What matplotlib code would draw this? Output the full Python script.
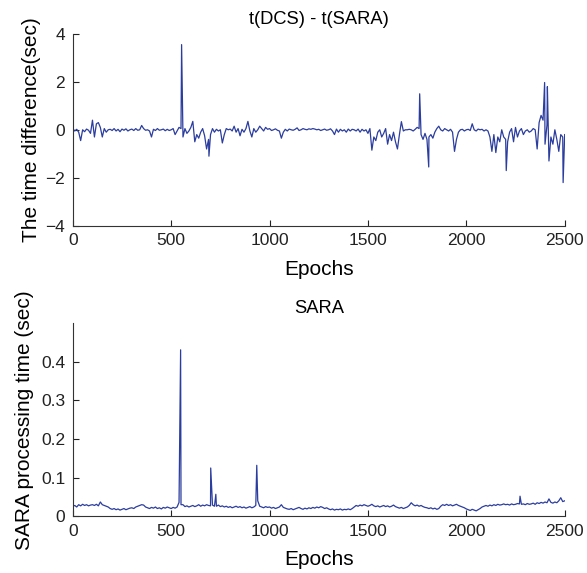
import numpy as np
import matplotlib
matplotlib.use('Agg')
import matplotlib.pyplot as plt

plt.rcParams['font.family'] = ['Liberation Sans', 'DejaVu Sans']

# -------------------
#    Data
# -------------------
# base trace, one value every 10 epochs
epochs = np.arange(0, 2501, 10)

# t(DCS) - t(SARA) in sec
dcs_diff = [
    0.05, -0.05, 0.02, -0.1, -0.45, 0.0, -0.08, 0.03, -0.02, -0.15,
    0.4, -0.3, 0.25, 0.3, 0.1, -0.3, 0.05, -0.1, 0.0, 0.02,
    -0.03, 0.05, -0.05, 0.02, -0.08, 0.03, -0.02, 0.04, -0.05, 0.0,
    0.03, -0.03, 0.05, -0.02, 0.0, 0.18, 0.05, -0.02, 0.0, -0.05,
    -0.3, 0.02, -0.03, 0.05, -0.02, 0.0, 0.03, -0.04, 0.02, -0.03,
    0.0, 0.05, -0.2, -0.05, 0.1, 0.05, -0.3, 0.05, -0.15, -0.05,
    0.1, 0.35, -0.5, -0.2, -0.35, -0.1, 0.05, -0.25, -0.8, -0.4,
    -0.2, 0.05, -0.1, 0.02, -0.05, 0.0, -0.55, -0.2, 0.05, 0.0,
    0.03, -0.05, 0.15, -0.1, 0.05, -0.25, 0.02, -0.1, 0.05, 0.35,
    -0.05, -0.3, 0.05, -0.1, 0.0, 0.15, 0.05, -0.05, 0.1, 0.02,
    0.05, -0.03, 0.0, 0.04, -0.02, -0.05, -0.35, -0.1, 0.02, -0.05,
    0.03, 0.0, -0.02, 0.02, 0.08, -0.03, 0.0, 0.05, 0.02, 0.0,
    0.04, 0.02, 0.05, 0.03, 0.0, 0.02, -0.03, 0.0, 0.03, -0.02,
    0.0, 0.04, -0.05, -0.2, 0.03, -0.1, 0.02, -0.05, 0.0, -0.1,
    0.03, -0.05, 0.02, 0.0, -0.05, 0.03, -0.1, 0.02, -0.05, 0.0,
    -0.15, 0.05, -0.85, -0.3, -0.45, -0.1, 0.0, -0.3, -0.15, 0.05,
    -0.6, -0.2, -0.45, -0.1, -0.5, -0.8, -0.2, 0.34, -0.05, 0.0,
    0.0, 0.02, 0.0, -0.05, 0.02, 0.1, 0.05, -0.2, -0.4, -0.15,
    -0.4, -0.3, -0.2, -0.35, -0.1, 0.05, 0.15, 0.0, -0.05, 0.05,
    0.0, -0.05, 0.02, -0.1, -0.9, -0.4, -0.1, 0.0, 0.02, -0.05,
    0.0, 0.02, -0.03, 0.25, 0.0, -0.05, 0.03, 0.0, 0.02, -0.05,
    0.0, -0.05, -0.3, -0.9, -0.2, -0.95, -0.3, -0.5, 0.0, -0.3,
    -0.4, -0.5, -0.1, 0.05, -0.5, 0.1, -0.3, -0.05, 0.05, -0.2,
    -0.05, 0.0, -0.1, -0.05, 0.05, 0.0, -0.8, 0.3, 0.6, 0.4,
    -0.6, 0.2, -1.3, -0.3, -0.6, 0.0, -0.4, -0.9, -0.2, -0.3,
    -0.2,
]

# single-epoch spikes of the difference trace
dcs_spike_epochs = [553, 692, 1763, 1809, 2203, 2398, 2412, 2492]
dcs_spike_values = [3.55, -1.1, 1.5, -1.55, -1.7, 1.97, 1.8, -2.2]

# SARA processing time in sec
sara_time = [
    0.026, 0.028, 0.024, 0.030, 0.027, 0.031, 0.028, 0.030, 0.027, 0.029,
    0.030, 0.028, 0.031, 0.027, 0.037, 0.030, 0.028, 0.026, 0.024, 0.020,
    0.018, 0.020, 0.017, 0.019, 0.016, 0.018, 0.020, 0.017, 0.019, 0.021,
    0.022, 0.020, 0.024, 0.026, 0.028, 0.030, 0.029, 0.024, 0.022, 0.020,
    0.023, 0.021, 0.024, 0.020, 0.022, 0.019, 0.023, 0.021, 0.024, 0.022,
    0.020, 0.023, 0.021, 0.024, 0.036, 0.030, 0.030, 0.025, 0.027, 0.024,
    0.026, 0.028, 0.025, 0.027, 0.030, 0.026, 0.029, 0.027, 0.030, 0.028,
    0.027, 0.029, 0.026, 0.026, 0.029, 0.025, 0.027, 0.024, 0.026, 0.023,
    0.025, 0.022, 0.024, 0.026, 0.023, 0.025, 0.022, 0.024, 0.021, 0.023,
    0.025, 0.022, 0.024, 0.028, 0.040, 0.026, 0.024, 0.022, 0.025, 0.023,
    0.024, 0.021, 0.023, 0.020, 0.022, 0.024, 0.030, 0.023, 0.021, 0.019,
    0.018, 0.020, 0.017, 0.019, 0.021, 0.023, 0.020, 0.018, 0.021, 0.019,
    0.022, 0.020, 0.023, 0.021, 0.024, 0.022, 0.025, 0.023, 0.020, 0.022,
    0.019, 0.017, 0.019, 0.016, 0.018, 0.017, 0.019, 0.016, 0.018, 0.017,
    0.019, 0.017, 0.020, 0.024, 0.028, 0.026, 0.029, 0.027, 0.030, 0.028,
    0.026, 0.028, 0.031, 0.027, 0.025, 0.027, 0.024, 0.026, 0.028, 0.025,
    0.027, 0.024, 0.026, 0.029, 0.025, 0.023, 0.021, 0.023, 0.020, 0.022,
    0.024, 0.028, 0.035, 0.030, 0.027, 0.029, 0.026, 0.028, 0.025, 0.023,
    0.022, 0.020, 0.022, 0.019, 0.021, 0.018, 0.020, 0.026, 0.030, 0.028,
    0.031, 0.028, 0.030, 0.027, 0.029, 0.031, 0.028, 0.026, 0.024, 0.022,
    0.019, 0.017, 0.015, 0.018, 0.016, 0.014, 0.017, 0.020, 0.024, 0.026,
    0.028, 0.026, 0.029, 0.027, 0.030, 0.028, 0.031, 0.029, 0.030, 0.032,
    0.030, 0.031, 0.029, 0.032, 0.030, 0.031, 0.033, 0.032, 0.031, 0.032,
    0.030, 0.033, 0.031, 0.032, 0.034, 0.031, 0.035, 0.033, 0.036, 0.034,
    0.037, 0.035, 0.045, 0.036, 0.034, 0.037, 0.035, 0.040, 0.048, 0.038,
    0.040,
]

# single-epoch spikes of the processing time
sara_spike_epochs = [548, 701, 727, 935, 2273]
sara_spike_values = [0.431, 0.125, 0.057, 0.132, 0.052]

x_ticks = [0, 500, 1000, 1500, 2000, 2500]
diff_ticks = [-4, -2, 0, 2, 4]
sara_ticks = [0, 0.1, 0.2, 0.3, 0.4]

line_color = '#2b3d9e'


def merge_trace(base_x, base_y, spike_x, spike_y):
    # put the spikes into the base trace, ordered by epoch
    x = np.concatenate([base_x, spike_x])
    y = np.concatenate([base_y, spike_y])
    order = np.argsort(x, kind='stable')
    return x[order], y[order]


dcs_x, dcs_y = merge_trace(epochs, dcs_diff, dcs_spike_epochs, dcs_spike_values)
sara_x, sara_y = merge_trace(epochs, sara_time, sara_spike_epochs, sara_spike_values)

# -------------------
#   Plotting area
# -------------------
fig = plt.figure(figsize=(5.87, 5.73), dpi=100)
ax_top = fig.add_axes([0.124, 0.606, 0.838, 0.335])
ax_bot = fig.add_axes([0.124, 0.099, 0.838, 0.337])

ax_top.plot(dcs_x, dcs_y, c=line_color, lw=0.9)
ax_top.set_xlim(0, 2500)
ax_top.set_ylim(-4, 4)
ax_top.set_xticks(x_ticks)
ax_top.set_yticks(diff_ticks)
ax_top.set_title('t(DCS) - t(SARA)', fontsize=13.2, pad=7)
ax_top.set_xlabel('Epochs', fontsize=15, labelpad=8)
ax_top.set_ylabel('The time difference(sec)', fontsize=15, labelpad=3)

ax_bot.plot(sara_x, sara_y, c=line_color, lw=0.9)
ax_bot.set_xlim(0, 2500)
ax_bot.set_ylim(0, 0.5)
ax_bot.set_xticks(x_ticks)
ax_bot.set_yticks(sara_ticks)
ax_bot.set_yticklabels(['0', '0.1', '0.2', '0.3', '0.4'])
ax_bot.set_title('SARA', fontsize=13.2, pad=7)
ax_bot.set_xlabel('Epochs', fontsize=15, labelpad=8)
ax_bot.set_ylabel('SARA processing time (sec)', fontsize=15, labelpad=5)

for ax in (ax_top, ax_bot):
    ax.spines['top'].set_visible(False)
    ax.spines['right'].set_visible(False)
    ax.spines['left'].set_color('#333333')
    ax.spines['bottom'].set_color('#333333')
    ax.tick_params(direction='in', length=4, width=0.8, labelsize=12.5,
                   colors='#222222', pad=5.5)

plt.savefig('out.png', dpi=100)
plt.close()
